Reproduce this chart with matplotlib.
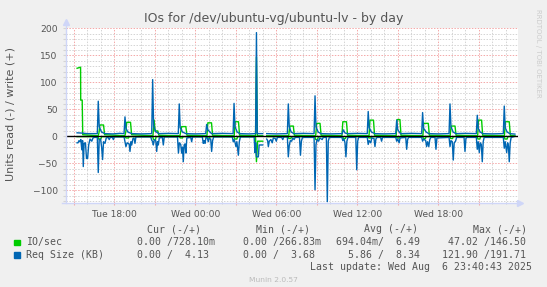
import numpy as np
import matplotlib
matplotlib.use('Agg')
import matplotlib.pyplot as plt
from matplotlib.ticker import FixedLocator, MultipleLocator, NullFormatter
from matplotlib.patches import Rectangle

nan = np.nan

# time axis: hours since Tue 00:00
# IO/sec, write (+)
io_w_t = [15.24, 15.50, 15.51, 15.62, 15.66,
          16.80, 16.86, 16.93, 17.20, 17.28,
          18.78, 18.85, 18.92, 19.20, 19.28,
          20.86, 20.95, 21.02, 21.22, 21.30,
          22.86, 22.99, 23.30, 23.38,
          24.86, 24.93, 25.20, 25.28,
          26.88, 26.95, 27.20, 27.28,
          28.46, 28.53, 28.60, 28.99, 29.10, 29.29,
          30.92, 31.00, 31.26, 31.34,
          32.92, 32.99, 33.24, 33.32,
          34.86, 34.93, 35.20, 35.28,
          36.87, 36.94, 37.20, 37.28,
          38.88, 38.95, 39.16, 39.24,
          40.86, 40.92, 41.26, 41.34,
          42.88, 42.95, 43.24, 43.32,
          44.92, 44.98, 45.21, 45.29,
          46.90, 46.97, 47.26, 47.34,
          47.68]
io_w = [126, 128, 67, 67, 3,
        1, 6, 21, 21, 3,
        1, 8, 26, 26, 3,
        1, 30, 10, 10, 2,
        1, 18, 18, 2,
        1, 25, 25, 2,
        1, 27, 27, 2,
        1, 146.5, 1, 1, nan, 1,
        1, 19, 19, 2,
        1, 24, 24, 2,
        1, 27, 27, 2,
        1, 30, 30, 2,
        1, 31, 31, 2,
        1, 24, 24, 2,
        1, 19, 19, 2,
        1, 30, 30, 2,
        1, 27, 27, 2,
        0.73]

# IO/sec, read (-)
io_r_t = [15.24,
          16.78, 16.84, 17.00, 17.06,
          18.80, 18.86, 19.05, 19.10,
          20.85, 20.90, 21.05, 21.10,
          22.82, 22.88, 23.05, 23.10,
          24.85, 24.90, 25.05, 25.10,
          26.86, 26.92, 27.08, 27.14,
          28.46, 28.53, 28.62, 28.99, 29.10, 29.29,
          30.88, 30.93, 31.08, 31.13,
          32.86, 32.92, 33.06, 33.12,
          34.92, 34.98, 35.12, 35.18,
          36.80, 36.86, 37.00, 37.06,
          38.90, 38.96, 39.10, 39.16,
          40.85, 40.90, 41.05, 41.10,
          42.86, 42.92, 43.06, 43.12,
          44.88, 44.94, 45.08, 45.14,
          46.88, 46.94, 47.10, 47.16,
          47.68]
io_r = [-0.5,
        -0.5, -5, -5, -0.5,
        -0.5, -3, -3, -0.5,
        -0.5, -6, -6, -0.5,
        -0.5, -3, -3, -0.5,
        -0.5, -3, -3, -0.5,
        -0.5, -5, -5, -0.5,
        -0.5, -47, -9, -9, nan, -0.5,
        -0.5, -4, -4, -0.5,
        -0.5, -6, -6, -0.5,
        -0.5, -4, -4, -0.5,
        -0.5, -3, -3, -0.5,
        -0.5, -3, -3, -0.5,
        -0.5, -4, -4, -0.5,
        -0.5, -4, -4, -0.5,
        -0.5, -5, -5, -0.5,
        -0.5, -5, -5, -0.5,
        0]

# Req Size (KB), write (+)
req_w_t = [15.24, 15.60, 16.00,
           16.74, 16.81, 16.88, 17.05, 17.30, 17.90, 18.40,
           18.72, 18.79, 18.86, 19.00, 19.30, 20.00,
           20.77, 20.84, 20.91, 21.05, 21.30, 22.00,
           22.74, 22.81, 22.88, 23.05, 23.30, 24.00,
           24.77, 24.84, 24.93, 25.20, 26.00,
           26.80, 26.87, 26.94, 27.10, 27.30, 28.00,
           28.47, 28.53, 28.59, 28.99, 29.10, 29.29, 30.00,
           30.82, 30.89, 30.96, 31.10, 31.30, 32.00,
           32.80, 32.87, 32.94, 33.10, 33.30, 34.00,
           34.89, 34.96, 35.10, 35.30, 36.00,
           36.74, 36.81, 36.88, 37.05, 37.30, 38.00,
           38.85, 38.92, 39.00, 39.20, 40.00,
           40.77, 40.84, 40.91, 41.10, 41.30, 42.00,
           42.80, 42.87, 42.94, 43.10, 43.30, 44.00,
           44.82, 44.89, 44.96, 45.10, 45.30, 46.00,
           46.82, 46.89, 46.96, 47.10, 47.30,
           47.68]
req_w = [6.5, 6, 5,
         5, 65, 18, 8, 5, 4.5, 5.5,
         5, 36, 15, 8, 5, 4.5,
         5, 105, 20, 9, 5, 5.5,
         5, 60, 16, 8, 5, 4.5,
         5, 22, 12, 5, 5.5,
         5, 61, 18, 8, 5, 4.5,
         5, 192, 5, 5, nan, 5, 4.5,
         5, 60, 18, 8, 5, 5.5,
         5, 75, 18, 8, 5, 4.5,
         5, 12, 6, 5, 5.5,
         5, 46, 16, 8, 5, 4.5,
         5, 30, 12, 5, 5.5,
         5, 44, 15, 8, 5, 4.5,
         5, 60, 18, 8, 5, 5.5,
         5, 39, 15, 8, 5, 4.5,
         5, 56, 16, 8, 5,
         4.13]

# Req Size (KB), read (-)
req_r_t = [15.24, 15.31, 15.38, 15.45, 15.52, 15.59, 15.65, 15.70, 15.76, 15.86, 15.94, 16.02,
           16.10, 16.20, 16.33, 16.42, 16.52, 16.74,
           16.81, 16.88, 16.98, 17.06, 17.13, 17.20, 17.31, 17.40, 17.55, 17.62, 17.70, 17.86,
           17.93, 18.00, 18.72,
           18.79, 18.86, 18.95, 19.10, 19.16, 19.23, 19.29, 19.38, 19.46, 19.53, 19.60, 20.70,
           20.77, 20.84, 20.89, 20.97, 21.07, 21.14, 21.20, 21.26, 21.33, 21.56, 21.63, 21.70, 22.68,
           22.75, 22.82, 22.92, 22.99, 23.05, 23.11, 23.17, 23.24, 23.30, 23.37, 23.66, 23.73,
           23.80, 24.52,
           24.59, 24.66, 24.72, 24.79, 24.89, 24.96, 25.03, 25.14, 25.21, 25.28, 25.36, 26.74,
           26.81, 26.88, 26.95, 27.01, 27.08, 27.19, 27.26, 27.34, 28.36,
           28.42, 28.47, 28.53, 28.67, 28.73, 28.99, 29.10, 29.29, 29.36, 29.41, 29.48, 29.60,
           29.70, 29.78, 29.92, 30.00, 30.08, 30.40, 30.48, 30.56, 30.82,
           30.89, 30.96, 31.04, 31.14, 31.22, 31.32, 31.40, 31.72, 31.79, 31.86, 31.94, 32.80,
           32.87, 32.94, 33.02, 33.14, 33.22, 33.40, 33.48, 33.71, 33.78, 33.85, 33.93, 34.86,
           34.93, 35.02, 35.09, 35.16, 35.23, 35.31, 35.89, 35.96, 36.03, 36.10, 36.74,
           36.81, 36.88, 37.00, 37.07, 37.24, 37.31, 37.38, 37.46, 37.73, 37.80, 37.87, 38.85,
           38.92, 39.00, 39.10, 39.17, 39.59, 39.66, 39.73, 39.80, 40.77,
           40.84, 40.92, 41.07, 41.14, 41.21, 41.30, 41.37, 41.45, 41.76, 41.83, 41.90, 42.80,
           42.87, 42.94, 43.04, 43.11, 43.18, 43.28, 43.36, 43.91, 43.98, 44.05, 44.12, 44.82,
           44.89, 44.96, 45.04, 45.11, 45.19, 45.26, 45.33, 45.40, 46.82,
           46.89, 46.96, 47.07, 47.14, 47.20, 47.26, 47.33, 47.40, 47.68]
req_r = [-12, -12, -8, -10, -6, -25, -8, -56, -13, -12, -41, -41,
         -16, -5, -9, -3, -2, -2,
         -67, -6, -5, -20, -43, -10, -13, -3, -2, -6, -2, -2,
         -6, -1, -1,
         -10, -19, -12, -14, -28, -10, -16, -4, -3, -13, -1, -1,
         -7, -10, -16, -6, -8, -28, -10, -16, -3, -2, -16, -1, -1,
         -31, -12, -15, -31, -20, -47, -16, -14, -31, -3, -2, -10,
         -1, -1,
         -13, -8, -13, -2, -3, -10, -4, -5, -28, -8, -1, -1,
         -10, -6, -12, -19, -10, -35, -10, -1, -1,
         -30, -12, -38, -38, -16, -16, nan, -5, -8, -19, -9, -6,
         -12, -3, -4, -9, -2, -2, -6, -1, -1,
         -38, -17, -8, -9, -3, -6, -2, -2, -35, -9, -2, -2,
         -99, -15, -6, -9, -3, -6, -2, -2, -121, -9, -2, -2,
         -8, -5, -12, -38, -9, -2, -2, -62, -9, -2, -2,
         -15, -8, -12, -3, -4, -19, -5, -2, -2, -9, -2, -2,
         -9, -5, -12, -3, -2, -24, -6, -2, -2,
         -9, -5, -8, -19, -10, -19, -6, -2, -2, -24, -3, -2,
         -19, -8, -10, -44, -12, -9, -2, -2, -28, -4, -2, -2,
         -24, -10, -30, -12, -15, -47, -10, -2, -2,
         -22, -10, -30, -12, -18, -47, -12, -2, 0]

tick_pos = [18, 24, 30, 36, 42]
tick_labels = ['Tue 18:00', 'Wed 00:00', 'Wed 06:00', 'Wed 12:00', 'Wed 18:00']

legend_names = ['IO/sec', 'Req Size (KB)']
legend_colors = ['#00CC00', '#0066B3']
col_heads = ['Cur (-/+)', 'Min (-/+)', 'Avg (-/+)', 'Max (-/+)']
col_vals = [['  0.00 /728.10m', '  0.00 /266.83m', '694.04m/  6.49', ' 47.02 /146.50'],
            ['  0.00 /  4.13', '  0.00 /  3.68', '  5.86 /  8.34', '121.90 /191.71']]

W, H = 547, 287
def fx(x):
    return x / W
def fy(y):
    return 1 - y / H

TXT = '#555555'
AXC = '#CFD6F8'

fig = plt.figure(figsize=(W / 100, H / 100), dpi=100, facecolor='#F0F0F0')
ax = fig.add_axes([fx(66), fy(203.3), (518.3 - 66) / W, (203.3 - 28.3) / H])
ax.set_facecolor('white')
ax.set_xlim(14.42, 47.93)
ax.set_ylim(-124, 200)

ax.xaxis.set_major_locator(FixedLocator(list(range(15, 48, 3))))
ax.xaxis.set_major_formatter(NullFormatter())
ax.xaxis.set_minor_locator(MultipleLocator(1))
ax.yaxis.set_major_locator(MultipleLocator(50))
ax.yaxis.set_minor_locator(MultipleLocator(10))
ax.grid(which='minor', color='#D4D4D4', lw=0.7, ls=(0, (1.5, 1.5)), zorder=0)
ax.grid(which='major', color='#F4A8A8', lw=0.7, ls=(0, (1.5, 1.5)), zorder=0)
for s in ax.spines.values():
    s.set_visible(False)
ax.tick_params(axis='x', which='major', length=3, direction='inout', color='#F4A8A8', width=0.8)
ax.tick_params(axis='x', which='minor', length=2, direction='inout', color='#D4D4D4', width=0.8)
ax.tick_params(axis='y', which='major', length=2, direction='out', color='#D4D4D4', width=0.8,
               labelsize=6.6, labelcolor=TXT, pad=4)
ax.tick_params(axis='y', which='minor', length=2, direction='out', color='#D4D4D4', width=0.8)
for p, lab in zip(tick_pos, tick_labels):
    ax.text(p, -0.04, lab, transform=ax.get_xaxis_transform(), ha='center', va='top',
            fontsize=6.6, color=TXT)

ax.plot(io_w_t, io_w, color=legend_colors[0], lw=1.0, zorder=3)
ax.plot(io_r_t, io_r, color=legend_colors[0], lw=1.0, zorder=3)
ax.plot(req_w_t, req_w, color=legend_colors[1], lw=1.0, zorder=4)
ax.plot(req_r_t, req_r, color=legend_colors[1], lw=1.0, zorder=4)
ax.axhline(0, color='black', lw=1.0, zorder=5)

# axis lines with arrows
ax.plot([-0.008, 1.0], [0, 0], transform=ax.transAxes, color=AXC, lw=1, clip_on=False, zorder=6)
ax.plot([0, 0], [0, 1.03], transform=ax.transAxes, color=AXC, lw=1, clip_on=False, zorder=6)
ax.plot([1.004], [0], transform=ax.transAxes, marker='>', ms=5, color=AXC, clip_on=False, zorder=6)
ax.plot([0], [1.035], transform=ax.transAxes, marker='^', ms=5, color=AXC, clip_on=False, zorder=6)

fig.text(0.5, fy(18.5), 'IOs for /dev/ubuntu-vg/ubuntu-lv - by day', ha='center', va='center',
         fontsize=9, color=TXT)
fig.text(fx(11), fy(114), 'Units read (-) / write (+)', rotation=90, ha='center', va='center',
         fontsize=8, color=TXT)
fig.text(fx(538), fy(53), 'RRDTOOL / TOBI OETIKER', rotation=270, ha='center', va='center',
         fontsize=5, color='#CCCCCC')

mono = 'DejaVu Sans Mono'
head_x = [147.3, 255.8, 364.0, 473.0]
val_x = [125.3, 231.4, 336.1, 441.9]
for hx, h in zip(head_x, col_heads):
    fig.text(fx(hx), fy(229), h, family=mono, fontsize=7.1, color=TXT, va='center', ha='left')
row_y = [242.4, 254.6]
for i in range(2):
    fig.add_artist(Rectangle((fx(14), fy(row_y[i] + 3)), 5.5 / W, 5.5 / H,
                             transform=fig.transFigure, color=legend_colors[i]))
    fig.text(fx(26), fy(row_y[i]), legend_names[i], family=mono, fontsize=7.1, color=TXT,
             va='center', ha='left')
    for vx, v in zip(val_x, col_vals[i]):
        fig.text(fx(vx), fy(row_y[i]), v, family=mono, fontsize=7.1, color=TXT,
                 va='center', ha='left')
fig.text(fx(532), fy(266.8), 'Last update: Wed Aug  6 23:40:43 2025', family=mono, fontsize=7.1,
         color=TXT, va='center', ha='right')
fig.text(fx(273), fy(280), 'Munin 2.0.57', fontsize=5.4, color='#BBBBBB', ha='center', va='center')

fig.savefig('out.png', dpi=100, facecolor=fig.get_facecolor())
